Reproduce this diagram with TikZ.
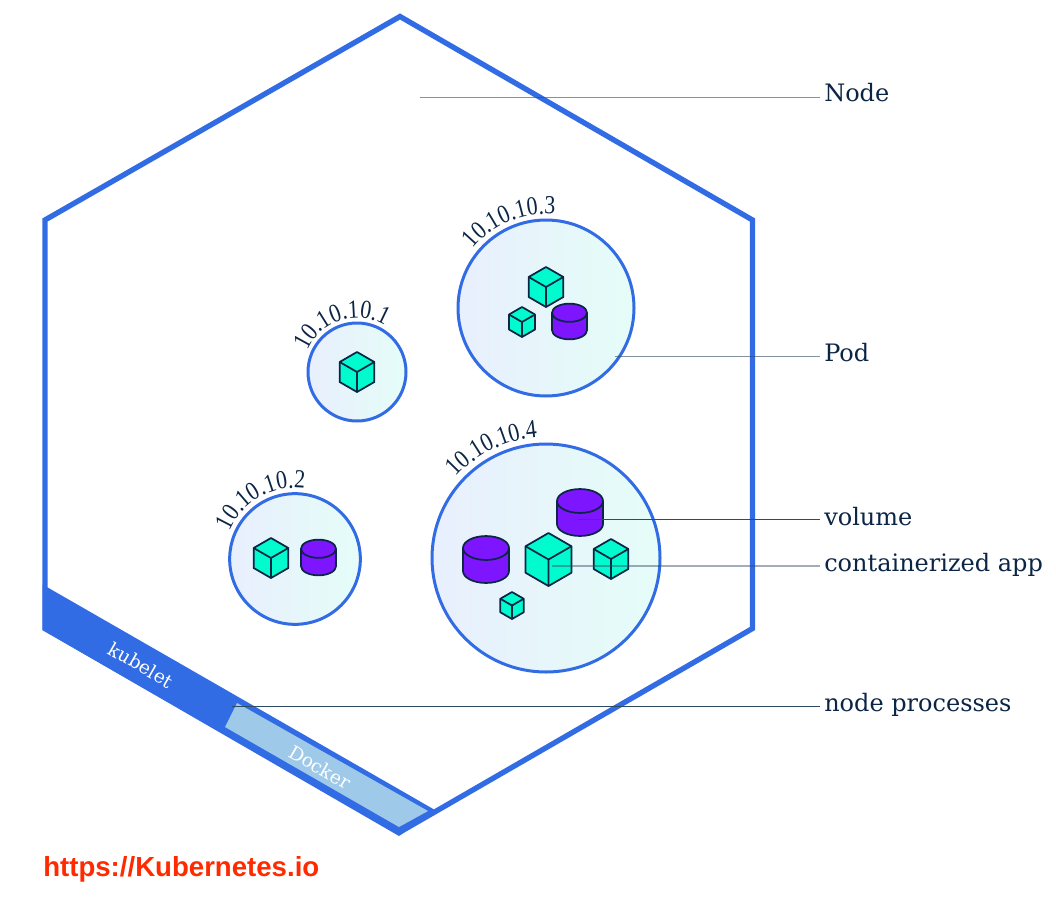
\documentclass[tikz,border=0pt]{standalone}
\usepackage{fontspec}
\setmainfont{DejaVu Serif}
\newfontfamily\podfont[FakeStretch=0.84]{Liberation Serif}
\newfontfamily\urlfont{Liberation Sans}
\usetikzlibrary{decorations.text}
\definecolor{kubeblue}{HTML}{326CE5}
\definecolor{dockerblue}{HTML}{9FC9E9}
\definecolor{appgreen}{HTML}{00FBCF}
\definecolor{volpurple}{HTML}{7D15FF}
\definecolor{inkblue}{HTML}{0B2545}
\definecolor{leadgray}{HTML}{2F4A63}
\definecolor{urlred}{HTML}{FF2A00}
\definecolor{podleft}{HTML}{E8EFFD}
\definecolor{podright}{HTML}{E5FDF8}
\tikzset{
	podcircle/.style={circle,draw=kubeblue,line width=2.25pt,left color=podleft,right color=podright,inner sep=0pt},
	sidelabel/.style={anchor=base west,inner xsep=3pt,inner ysep=0pt,text=inkblue,font=\fontsize{18}{20}\selectfont},
	bandlabel/.style={text=white,rotate=-30,inner sep=0pt,font=\fontsize{14}{16}\selectfont},
	leader/.style={draw=leadgray,line width=0.75pt},
	cubeapp/.pic={
		\draw[fill=appgreen,draw=inkblue,line width=1.3pt,line join=round]
			(0,-1)--(0.866,-0.5)--(0.866,0.5)--(0,1)--(-0.866,0.5)--(-0.866,-0.5)--cycle;
		\draw[draw=inkblue,line width=1.3pt,line join=round] (-0.866,-0.5)--(0,0)--(0.866,-0.5) (0,0)--(0,1);
	},
	volumeapp/.pic={
		\draw[fill=volpurple,draw=inkblue,line width=1.3pt]
			(-1,-0.5)--(-1,0.5) arc[start angle=180,end angle=0,x radius=1,y radius=0.52]
			--(1,-0.5) arc[start angle=0,end angle=-180,x radius=1,y radius=0.52]
			--cycle;
		\draw[draw=inkblue,line width=1.3pt]
			(-1,-0.5) arc[start angle=180,end angle=0,x radius=1,y radius=0.52];
	},
	podtext/.style={decoration={text along path,text color=inkblue,
		text={|\fontsize{19.5}{21}\podfont|#1}},decorate},
}
\begin{document}
\begin{tikzpicture}[x=0.75pt,y=-0.75pt]
	\useasboundingbox (0,0) rectangle (1056,906);
	% node outline
	\draw[kubeblue,line width=4pt,miter limit=4]
		(400,16.5)--(752.5,220)--(752.5,628.5)--(400,832)--(45,628.5)--(45,220)--cycle;
	% node processes
	\fill[kubeblue] (42.5,584.5)--(435,810)--(399,836)--(42.5,630)--cycle;
	\fill[dockerblue] (237,703)--(428,811)--(399,827)--(225,727)--cycle;
	\node[bandlabel] (kubelet) at (141,665) {kubelet};
	\node[bandlabel] (docker) at (320,767) {Docker};
	% pods
	\node[podcircle,minimum size=73.5pt] (podone) at (357,372) {};
	\node[podcircle,minimum size=98pt] (podtwo) at (295,559) {};
	\node[podcircle,minimum size=132pt] (podthree) at (546,308) {};
	\node[podcircle,minimum size=171pt] (podfour) at (546,558) {};
	\path[podtext={10.10.10.1}] (357,372)+(-157:54) arc[start angle=-157,end angle=-20,radius=54];
	\path[podtext={10.10.10.2}] (295,559)+(-157:71) arc[start angle=-157,end angle=-40,radius=71];
	\path[podtext={10.10.10.3}] (546,308)+(-141:94) arc[start angle=-141,end angle=-50,radius=94];
	\path[podtext={10.10.10.4}] (546,558)+(-138:121) arc[start angle=-138,end angle=-60,radius=121];
	% apps
	\foreach \x/\y/\r in {357/372/20,271/558/20,546/287/20,522/322/15,548.5/559.5/26.5,611/559/20,512/605.5/13.5}
		\pic[scale=\r] at (\x,\y) {cubeapp};
	\foreach \x/\y/\r in {318.5/557.5/17.5,569.5/321.5/17.5,580/512.5/23,486/559.5/23}
		\pic[scale=\r] at (\x,\y) {volumeapp};
	% labels
	\node[sidelabel] (nodelabel) at (820,102) {Node};
	\node[sidelabel] (podlabel) at (820,361) {Pod};
	\node[sidelabel] (volumelabel) at (820,525) {volume};
	\node[sidelabel] (applabel) at (820,571) {containerized app};
	\node[sidelabel] (proclabel) at (820,711) {node processes};
	\coordinate (nodetip) at (420,97);
	\coordinate (podtip) at (615,356);
	\coordinate (volumetip) at (578,519);
	\coordinate (apptip) at (552,566);
	\coordinate (proctip) at (232,706);
	\draw[leader,opacity=0.6] (nodetip)--(nodetip-|nodelabel.west);
	\draw[leader,opacity=0.6] (podtip)--(podtip-|podlabel.west);
	\draw[leader] (volumetip)--(volumetip-|volumelabel.west);
	\draw[leader,opacity=0.45,line width=1.2pt] (apptip)--(apptip-|applabel.west);
	\draw[leader] (proctip)--(proctip-|proclabel.west);
	\node[anchor=base west,inner sep=0pt,text=urlred,font=\urlfont\bfseries\fontsize{20.7}{23}\selectfont] (urllabel) at (43,876) {https://Kubernetes.io};
\end{tikzpicture}
\end{document}
